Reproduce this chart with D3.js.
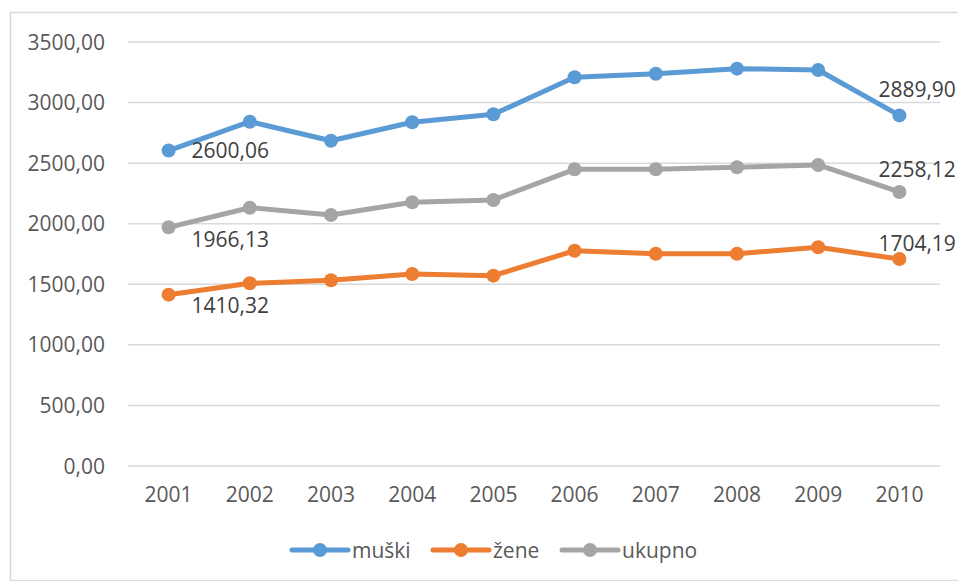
<!DOCTYPE html>
<html><head><meta charset="utf-8">
<script src="https://cdn.jsdelivr.net/npm/d3@7/dist/d3.min.js"></script>
<style>
html,body{margin:0;padding:0;background:#fff;overflow:hidden}
text{font-family:"Open Sans",sans-serif}
</style></head>
<body>
<script>
const years = ["2001","2002","2003","2004","2005","2006","2007","2008","2009","2010"];
const muski  = [2600.06, 2838, 2681, 2833, 2899, 3205, 3234, 3276, 3265, 2889.90];
const zene   = [1410.32, 1504, 1529, 1581, 1567, 1773, 1748, 1748, 1801, 1704.19];
const ukupno = [1966.13, 2128, 2068, 2173, 2192, 2445, 2445, 2462, 2481, 2258.12];
const seriesNames = ["muški", "žene", "ukupno"];
const yTicks = [0, 500, 1000, 1500, 2000, 2500, 3000, 3500];

const colors = ["#5B9BD5", "#ED7D31", "#A5A5A5"];
const series = [muski, zene, ukupno].map((v, i) => ({name: seriesNames[i], values: v, color: colors[i]}));

const W = 958, H = 581;
const svg = d3.select("body").append("svg").attr("width", W).attr("height", H);

// outer chart border (extends beyond the visible area)
svg.append("rect").attr("x", 10.5).attr("y", 12.5).attr("width", 1000).attr("height", 568)
  .attr("fill", "#fff").attr("stroke", "#d9d9d9").attr("stroke-width", 1.5);

const x = d3.scaleBand().domain(years).range([128, 940]);
const y = d3.scaleLinear().domain([0, 3500]).range([465.5, 41.5]);
const fmt = v => d3.format(".2f")(v).replace(".", ",");

// gridlines + y labels
const yAxis = d3.axisLeft(y).tickValues(yTicks).tickSize(-(940 - 128)).tickFormat(fmt).tickPadding(23);
const gy = svg.append("g").attr("transform", "translate(128,0)").call(yAxis);
gy.select(".domain").remove();
gy.selectAll(".tick line").attr("stroke", "#d9d9d9").attr("stroke-width", 1.5);
gy.selectAll(".tick text").attr("fill", "#595959").style("font-size", "21px").attr("dy", "0.36em");

// x labels
const xAxis = d3.axisBottom(x).tickSize(0).tickPadding(22);
const gx = svg.append("g").attr("transform", "translate(0,465.5)").call(xAxis);
gx.select(".domain").remove();
gx.selectAll(".tick text").attr("fill", "#595959").style("font-size", "21px");

const cx = (d, i) => x(years[i]) + x.bandwidth() / 2;
const line = d3.line().x((d, i) => cx(d, i)).y(d => y(d));

series.forEach(s => {
  svg.append("path").datum(s.values).attr("d", line)
    .attr("fill", "none").attr("stroke", s.color).attr("stroke-width", 5)
    .attr("stroke-linejoin", "round").attr("stroke-linecap", "round");
  svg.append("g").selectAll("circle").data(s.values).join("circle")
    .attr("cx", (d, i) => cx(d, i)).attr("cy", d => y(d)).attr("r", 7)
    .attr("fill", s.color);
});

// data labels on first and last points
const labelOffsets = [
  {first: [23, 0], last: [-21, -26]},
  {first: [23, 11], last: [-21, -16]},
  {first: [23, 12], last: [-21, -23]}
];
series.forEach((s, k) => {
  const n = s.values.length;
  [[0, labelOffsets[k].first], [n - 1, labelOffsets[k].last]].forEach(([i, off]) => {
    svg.append("text")
      .attr("x", cx(s.values[i], i) + off[0])
      .attr("y", y(s.values[i]) + off[1])
      .attr("dy", "0.36em")
      .attr("fill", "#404040").style("font-size", "21px")
      .text(fmt(s.values[i]));
  });
});

// legend
const legendX = [292, 433, 562];
const lg = svg.append("g");
series.forEach((s, i) => {
  const g = lg.append("g").attr("transform", `translate(${legendX[i]},550)`);
  g.append("line").attr("x1", 0).attr("x2", 56).attr("y1", 0).attr("y2", 0)
    .attr("stroke", s.color).attr("stroke-width", 5).attr("stroke-linecap", "round");
  g.append("circle").attr("cx", 28).attr("cy", 0).attr("r", 7).attr("fill", s.color);
  g.append("text").attr("x", 60).attr("y", 0).attr("dy", "0.36em")
    .attr("fill", "#595959").style("font-size", "21px").text(s.name);
});
</script>
</body></html>
